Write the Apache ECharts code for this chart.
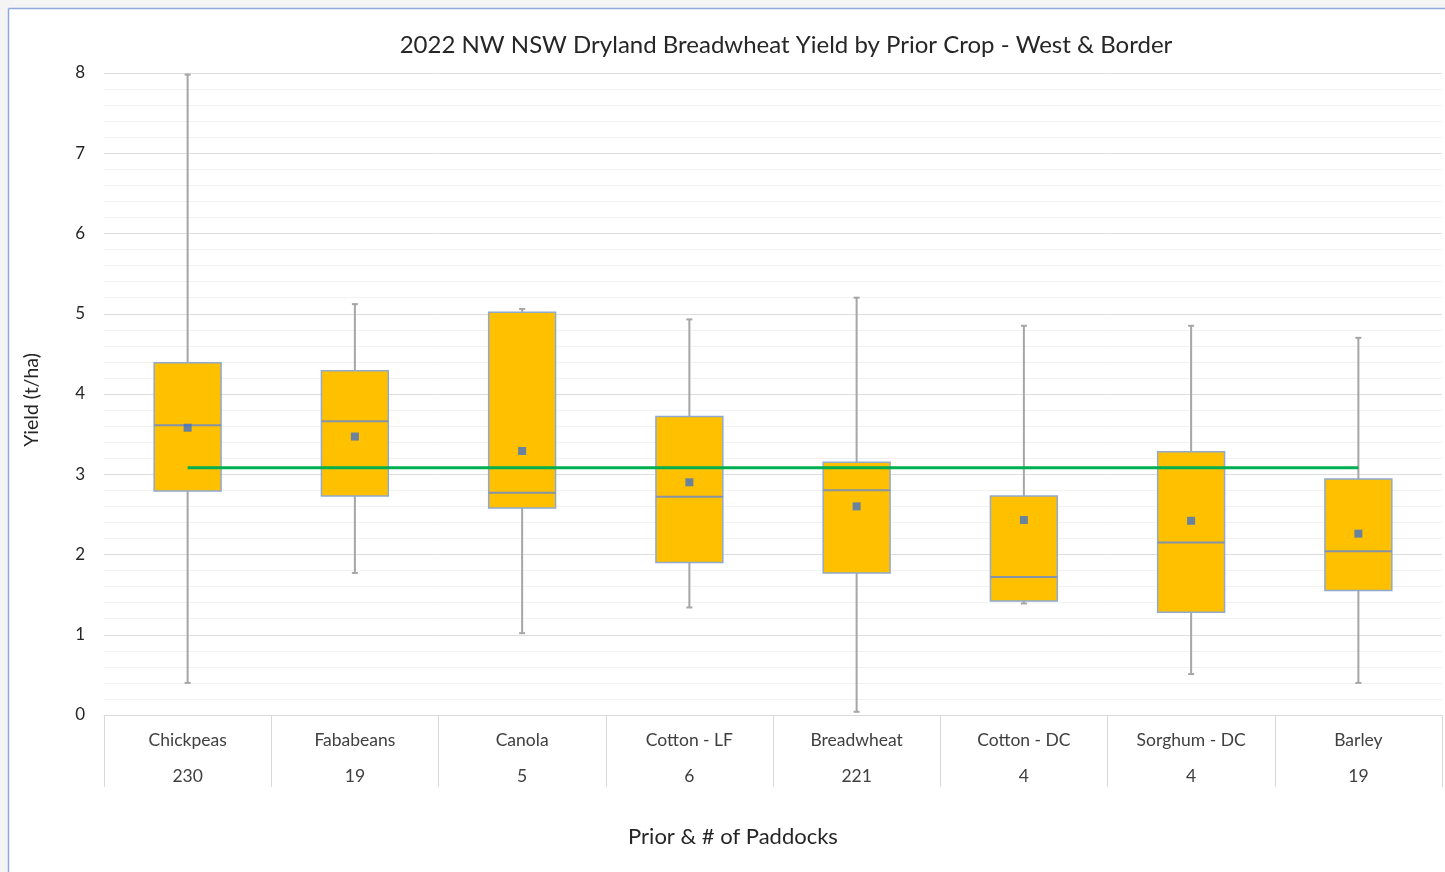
<!DOCTYPE html>
<html>
<head>
<meta charset="utf-8">
<title>2022 NW NSW Dryland Breadwheat Yield by Prior Crop</title>
<script src="https://cdn.jsdelivr.net/npm/echarts@6/dist/echarts.min.js"></script>
<style>
  html, body { margin: 0; padding: 0; background: #ffffff; }
  #chart { width: 1445px; height: 872px; }
</style>
</head>
<body>
<div id="chart"></div>
<script>
// Prior crops and the number of paddocks sampled after each
const crops = ['Chickpeas', 'Fababeans', 'Canola', 'Cotton - LF', 'Breadwheat', 'Cotton - DC', 'Sorghum - DC', 'Barley'];
const paddocks = [230, 19, 5, 6, 221, 4, 4, 19];

// Five-number summaries of yield (t/ha)
const minYield    = [0.40, 1.77, 1.02, 1.34, 0.04, 1.39, 0.51, 0.40];
const q1Yield     = [2.79, 2.73, 2.58, 1.90, 1.77, 1.42, 1.28, 1.55];
const medianYield = [3.61, 3.66, 2.77, 2.72, 2.80, 1.72, 2.15, 2.04];
const q3Yield     = [4.39, 4.29, 5.02, 3.72, 3.15, 2.73, 3.28, 2.94];
const maxYield    = [7.98, 5.12, 5.06, 4.93, 5.20, 4.85, 4.85, 4.70];

// Mean yield per prior crop
const meanYield = [3.58, 3.47, 3.29, 2.90, 2.60, 2.43, 2.42, 2.26];

// Overall average across all paddocks
const overallAverage = [3.08, 3.08, 3.08, 3.08, 3.08, 3.08, 3.08, 3.08];

// Y-axis tick range
const yTicks = { min: 0, max: 8, interval: 1 };

const boxData = crops.map((c, i) => [i, minYield[i], q1Yield[i], medianYield[i], q3Yield[i], maxYield[i]]);

const FONT = 'Lato, "Open Sans", sans-serif';

function renderBox(params, api) {
  const idx = api.value(0);
  const lo = api.coord([idx, api.value(1)]);
  const q1 = api.coord([idx, api.value(2)]);
  const md = api.coord([idx, api.value(3)]);
  const q3 = api.coord([idx, api.value(4)]);
  const hi = api.coord([idx, api.value(5)]);
  const bw = api.size([1, 0])[0] * 0.4;
  const cx = lo[0];
  const cap = 3;
  const whisker = { stroke: '#a6a6a6', lineWidth: 2 };
  return {
    type: 'group',
    children: [
      { type: 'line', shape: { x1: cx, y1: hi[1], x2: cx, y2: lo[1] }, style: whisker },
      { type: 'line', shape: { x1: cx - cap, y1: hi[1], x2: cx + cap, y2: hi[1] }, style: whisker },
      { type: 'line', shape: { x1: cx - cap, y1: lo[1], x2: cx + cap, y2: lo[1] }, style: whisker },
      { type: 'rect', shape: { x: cx - bw / 2, y: q3[1], width: bw, height: q1[1] - q3[1] },
        style: { fill: '#ffc000', stroke: '#8fa9cf', lineWidth: 1.5 } },
      { type: 'line', shape: { x1: cx - bw / 2, y1: md[1], x2: cx + bw / 2, y2: md[1] },
        style: { stroke: '#8593a8', lineWidth: 2 } }
    ]
  };
}

const chart = echarts.init(document.getElementById('chart'), null, { renderer: 'canvas' });

chart.setOption({
  backgroundColor: '#ffffff',
  animation: false,
  title: {
    text: '2022 NW NSW Dryland Breadwheat Yield by Prior Crop - West & Border',
    left: 781, top: 28, textAlign: 'center',
    textStyle: { fontFamily: FONT, fontSize: 24, fontWeight: 'normal', color: '#262626' }
  },
  graphic: [
    { type: 'rect', shape: { x: 0, y: 0, width: 1445, height: 8 }, style: { fill: '#f4f4f4' }, silent: true },
    { type: 'rect', shape: { x: 0, y: 0, width: 8, height: 872 }, style: { fill: '#f4f4f4' }, silent: true },
    { type: 'line', shape: { x1: 8.5, y1: 8.5, x2: 1445, y2: 8.5 }, style: { stroke: '#8eaadb', lineWidth: 1.5 }, silent: true },
    { type: 'line', shape: { x1: 8.5, y1: 8.5, x2: 8.5, y2: 872 }, style: { stroke: '#8eaadb', lineWidth: 1.5 }, silent: true }
  ],
  grid: { left: 104, right: 3, top: 73, bottom: 157 },
  xAxis: {
    type: 'category',
    data: crops,
    boundaryGap: true,
    name: 'Prior & # of Paddocks',
    nameLocation: 'middle',
    nameGap: 111,
    nameTextStyle: { fontFamily: FONT, fontSize: 22, color: '#262626', padding: [0, 80, 0, 0] },
    axisLine: { show: true, lineStyle: { color: '#d9d9d9', width: 1 } },
    axisTick: { show: true, length: 72, lineStyle: { color: '#d9d9d9', width: 1 } },
    axisLabel: {
      margin: 7,
      fontFamily: FONT, fontSize: 17.5, color: '#404040', lineHeight: 36,
      formatter: (v, i) => v + '\n' + paddocks[i]
    },
    splitLine: { show: false }
  },
  yAxis: {
    type: 'value',
    min: yTicks.min, max: yTicks.max, interval: yTicks.interval,
    name: 'Yield (t/ha)',
    nameLocation: 'middle',
    nameGap: 62,
    nameRotate: 90,
    nameTextStyle: { fontFamily: FONT, fontSize: 19.5, color: '#262626', padding: [0, 12, 0, 0] },
    axisLine: { show: false },
    axisTick: { show: false },
    axisLabel: { margin: 19, fontFamily: FONT, fontSize: 17, color: '#262626' },
    splitLine: { show: true, lineStyle: { color: '#dedede', width: 1 } },
    minorTick: { show: false, splitNumber: 5 },
    minorSplitLine: { show: true, lineStyle: { color: '#f2f2f2', width: 1 } }
  },
  series: [
    {
      type: 'custom',
      name: 'Yield',
      renderItem: renderBox,
      data: boxData,
      encode: { x: 0, y: [1, 2, 3, 4, 5] },
      z: 2
    },
    {
      type: 'line',
      name: 'Average',
      data: overallAverage,
      showSymbol: false,
      symbol: 'none',
      lineStyle: { color: '#00b050', width: 3 },
      z: 3
    },
    {
      type: 'scatter',
      name: 'Mean',
      data: meanYield,
      symbol: 'rect',
      symbolSize: 8,
      itemStyle: { color: '#4472c4' },
      z: 4
    }
  ]
});
</script>
</body>
</html>
